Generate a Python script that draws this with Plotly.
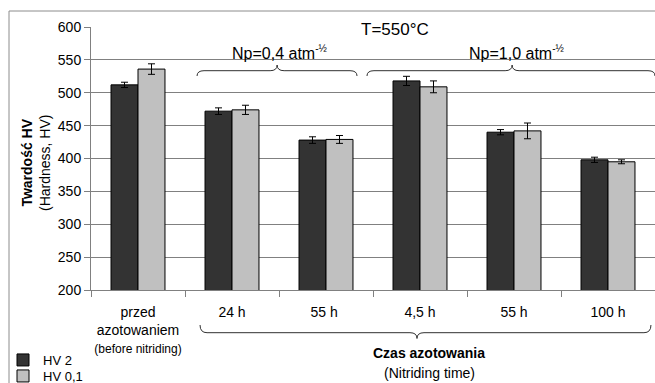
import plotly.graph_objects as go

categories = ["przed<br>azotowaniem<br><span style='font-size:12px'>(before nitriding)</span>",
              "24 h", "55 h ", "4,5 h", "55 h", "100 h"]
hv2 = [512, 472, 428, 518, 440, 398]
hv2_err = [4, 5, 5, 7, 4, 4]
hv01 = [536, 474, 429, 509, 442, 395]
hv01_err = [8, 7, 6, 9, 12, 3]
series_names = ["HV 2", "HV 0,1"]

W, H = 655, 383
L, R, T, B = 91, 0, 27, 93
PW, PH = W - L - R, H - T - B
NCAT = len(categories)
CATW = PW / NCAT


def X(px):
    return (px - L) / PW


def Y(py):
    return (H - B - py) / PH


def cat_px(idx):
    return L + (idx + 0.5) * CATW


def brace(i0, i1, im, y_line, y_end, y_tip, r=7):
    x0, x1, xm = cat_px(i0), cat_px(i1), cat_px(im)
    pts = [
        ("M", [(x0, y_end)]),
        ("Q", [(x0, y_line), (x0 + r, y_line)]),
        ("L", [(xm - r, y_line)]),
        ("Q", [(xm, y_line), (xm, y_tip)]),
        ("Q", [(xm, y_line), (xm + r, y_line)]),
        ("L", [(x1 - r, y_line)]),
        ("Q", [(x1, y_line), (x1, y_end)]),
    ]
    s = ""
    for cmd, ps in pts:
        s += cmd + " " + " ".join(f"{X(a):.5f},{Y(b):.5f}" for a, b in ps) + " "
    return dict(type="path", path=s.strip(), xref="paper", yref="paper",
                line=dict(color="#303030", width=1))


font_family = "Liberation Sans, Arial, sans-serif"

fig = go.Figure()
fig.add_trace(go.Bar(
    x=categories, y=hv2, name=series_names[0], legend="legend",
    marker=dict(color="#333333", line=dict(color="#000000", width=1)),
    error_y=dict(type="data", array=hv2_err, color="#000000", thickness=1, width=3.5),
))
fig.add_trace(go.Bar(
    x=categories, y=hv01, name=series_names[1], legend="legend2",
    marker=dict(color="#c0c0c0", line=dict(color="#000000", width=1)),
    error_y=dict(type="data", array=hv01_err, color="#000000", thickness=1, width=3.5),
))

shapes = [
    dict(type="rect", xref="paper", yref="paper", x0=X(9), x1=X(720), y0=Y(450), y1=Y(11),
         line=dict(color="#8c8c8c", width=1), layer="below"),
    brace(0.628, 2.33, 1.48, 70.7, 76, 65),
    brace(2.436, 5.5, 3.98, 70.7, 76, 65),
    brace(0.66, 5.457, 2.968, 332.7, 325, 338.5),
]

common = dict(showarrow=False, xanchor="center", yanchor="middle", xref="paper", yref="paper")
sup = "<sup><span style='font-size:10px'>-½</span></sup>"
annotations = [
    dict(text="T=550°C", x=X(395), y=Y(30), bgcolor="white", borderpad=2,
         font=dict(size=17), **common),
    dict(text="Np=0,4 atm" + sup, x=X(279), y=Y(52), font=dict(size=16), **common),
    dict(text="Np=1,0 atm" + sup, x=X(516), y=Y(52), font=dict(size=16), **common),
    dict(text="<b>Czas azotowania</b>", x=X(429), y=Y(353), font=dict(size=14), **common),
    dict(text="(Nitriding time)", x=X(429), y=Y(373), font=dict(size=14), **common),
    dict(text="<b>Twardość HV</b><br>(Hardness, HV)", textangle=-90, x=X(36),
         y=Y(163), font=dict(size=14), **common),
]

legend_common = dict(xanchor="left", yanchor="middle", bgcolor="rgba(0,0,0,0)",
                     font=dict(size=13), itemwidth=30)

fig.update_layout(
    width=W, height=H,
    margin=dict(l=L, r=R, t=T, b=B, pad=0, autoexpand=False),
    paper_bgcolor="white", plot_bgcolor="white",
    font=dict(family=font_family, size=14, color="#000000"),
    barmode="group", bargap=0.426, bargroupgap=0,
    showlegend=True,
    legend=dict(x=X(3), y=Y(360), **legend_common),
    legend2=dict(x=X(3), y=Y(376), **legend_common),
    shapes=shapes, annotations=annotations,
)
fig.update_xaxes(
    tickson="boundaries", ticks="outside", ticklen=6, tickcolor="#808080",
    showline=True, linecolor="#808080", linewidth=1, showgrid=False,
    tickfont=dict(size=14), tickangle=0, automargin=False, ticklabelstandoff=9,
)
fig.update_yaxes(
    range=[200, 600], dtick=50, tick0=200, ticks="outside", ticklen=6, tickcolor="#808080",
    showline=True, linecolor="#808080", linewidth=1,
    showgrid=True, gridcolor="#808080", gridwidth=1, zeroline=False,
    tickfont=dict(size=14), automargin=False,
)

fig.write_html("out.html", config={"displayModeBar": False},
               post_script="document.body.style.margin='0';document.body.style.overflow='hidden';")
